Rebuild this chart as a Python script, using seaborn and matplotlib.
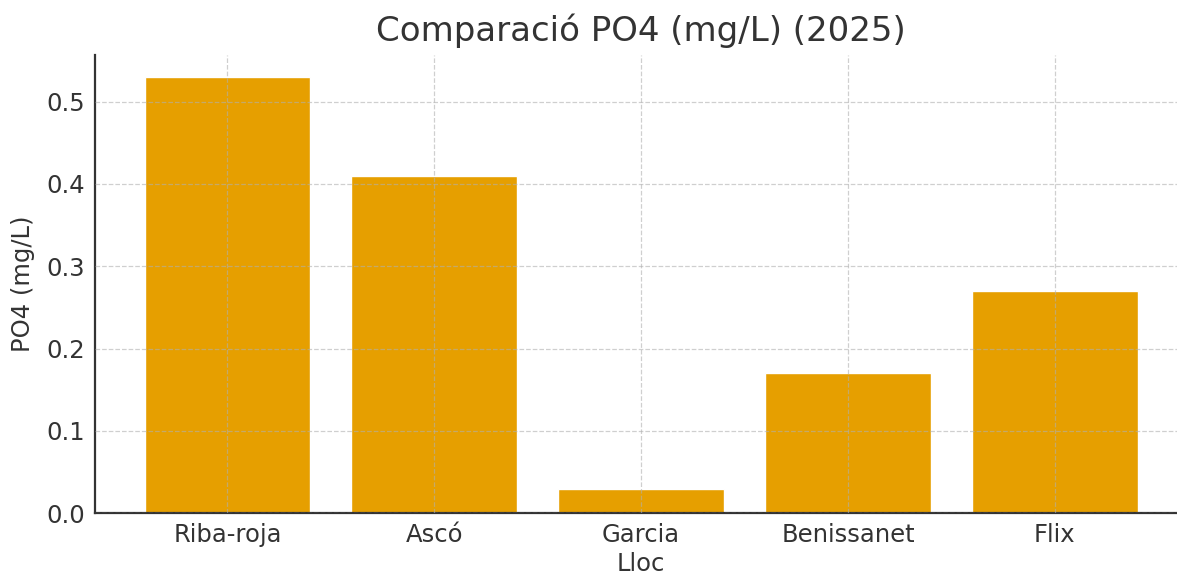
import matplotlib
matplotlib.use('Agg')
import matplotlib.pyplot as plt
import seaborn as sns
import pandas as pd

# Data
llocs = ['Riba-roja', 'Ascó', 'Garcia', 'Benissanet', 'Flix']
po4 = [0.53, 0.41, 0.03, 0.17, 0.27]

df = pd.DataFrame({'Lloc': llocs, 'PO4 (mg/L)': po4})

sns.set_style('white')
plt.rcParams['font.family'] = ['DejaVu Sans']
plt.rcParams['text.color'] = '#333333'
plt.rcParams['axes.labelcolor'] = '#333333'
plt.rcParams['xtick.color'] = '#333333'
plt.rcParams['ytick.color'] = '#333333'

fig = plt.figure(figsize=(11.77, 5.76), dpi=100)
ax = fig.add_axes([0.0807, 0.109, 0.928, 0.7955])

sns.barplot(data=df, x='Lloc', y='PO4 (mg/L)', color='#E69F00',
            saturation=1, width=0.8, ax=ax)

ax.set_xlim(-0.64, 4.64)
ax.set_ylim(0, 0.5565)
ax.set_yticks([0.0, 0.1, 0.2, 0.3, 0.4, 0.5])
ax.grid(True, linestyle='--', color='#b0b0b0', alpha=0.6, linewidth=0.9)
ax.set_axisbelow(False)
for p in ax.patches:
    p.set_zorder(0.5)

for s in ['top', 'right']:
    ax.spines[s].set_visible(False)
for s in ['left', 'bottom']:
    ax.spines[s].set_color('#333333')
    ax.spines[s].set_linewidth(1.6)

ax.tick_params(direction='in', length=5, width=1, labelsize=17.5, pad=7)
ax.set_xlabel('Lloc', fontsize=17.5, labelpad=4)
ax.set_ylabel('PO4 (mg/L)', fontsize=17.5, labelpad=8)
ax.set_title('Comparació PO4 (mg/L) (2025)', fontsize=24.5, pad=10)

fig.savefig('out.png', dpi=100)
